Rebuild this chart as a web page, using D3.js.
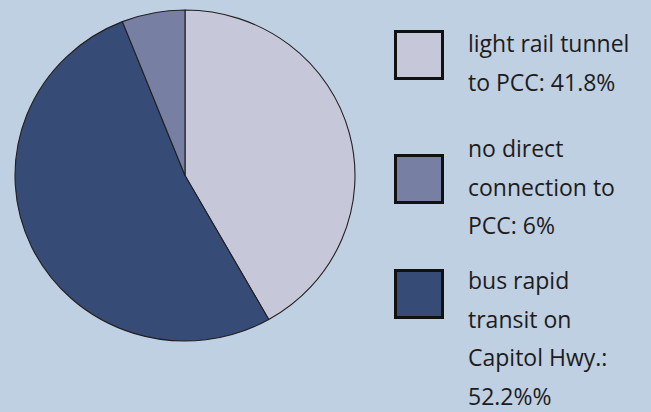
<!DOCTYPE html>
<html>
<head>
<meta charset="utf-8">
<script src="https://cdn.jsdelivr.net/npm/d3@7"></script>
<style>
  html, body { margin: 0; padding: 0; background: #bed0e1; }
  svg { display: block; }
</style>
</head>
<body>
<svg id="chart" width="651" height="412"></svg>
<script>
// Share of options, drawn clockwise from 12 o'clock
const categories = ["light rail tunnel to PCC", "bus rapid transit on Capitol Hwy.", "no direct connection to PCC"];
const values = [41.8, 52.2, 6];
const colors = ["#c6c8d9", "#364c77", "#7780a3"];

// Legend entries (in legend order) with their wrapped label lines
const legendIndex = [0, 2, 1];
const legendLines = [
  ["light rail tunnel", "to PCC: 41.8%"],
  ["no direct", "connection to", "PCC: 6%"],
  ["bus rapid", "transit on", "Capitol Hwy.:", "52.2%%"]
];

const svg = d3.select("#chart");
const W = 651, H = 412;

svg.append("rect").attr("width", W).attr("height", H).attr("fill", "#bed0e1");

// Pie
const cx = 185, cy = 175.5, rx = 170, ry = 165.5;
const pie = d3.pie().sort(null).value(d => d);
const arc = d3.arc().innerRadius(0).outerRadius(rx);

const g = svg.append("g")
  .attr("transform", `translate(${cx},${cy}) scale(1,${ry / rx})`);

g.selectAll("path")
  .data(pie(values))
  .join("path")
  .attr("d", arc)
  .attr("fill", (d, i) => colors[i])
  .attr("stroke", "#231f20")
  .attr("stroke-width", 1.1)
  .attr("vector-effect", "non-scaling-stroke")
  .attr("stroke-linejoin", "round");

// Legend
const boxX = 394, boxSize = 50;
const boxTops = [30, 154, 269];
const textX = 468;
const firstBaselines = [52, 157, 289];
const lineH = 38.6;

const items = svg.append("g").selectAll("g")
  .data(legendIndex)
  .join("g");

items.append("rect")
  .attr("x", boxX + 1.5)
  .attr("y", (d, i) => boxTops[i] + 1.5)
  .attr("width", boxSize - 3)
  .attr("height", boxSize - 3)
  .attr("fill", d => colors[d])
  .attr("stroke", "#111")
  .attr("stroke-width", 3);

items.each(function (d, i) {
  const t = d3.select(this).append("text")
    .attr("font-family", "'Open Sans', sans-serif")
    .attr("font-size", 23)
    .attr("fill", "#1f1b1c");
  t.selectAll("tspan")
    .data(legendLines[i])
    .join("tspan")
    .attr("x", textX)
    .attr("y", (s, j) => firstBaselines[i] + j * lineH)
    .text(s => s);
});
</script>
</body>
</html>
